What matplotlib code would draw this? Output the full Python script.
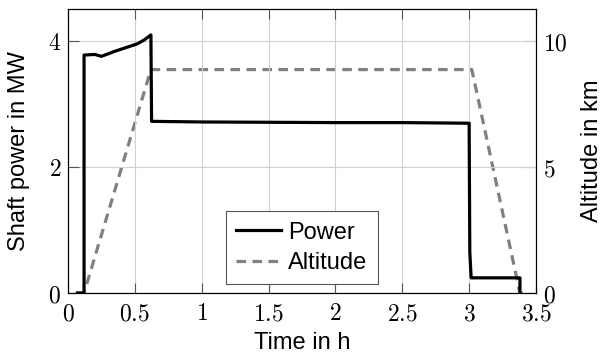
import matplotlib
matplotlib.use('Agg')
import matplotlib.pyplot as plt

# Mission profile
power_t = [0.07, 0.12, 0.12, 0.20, 0.25, 0.35, 0.45, 0.52, 0.57, 0.62, 0.625, 1.0, 2.0, 2.5, 3.0, 3.005, 3.015, 3.38, 3.38]
power_mw = [0.0, 0.0, 3.77, 3.78, 3.75, 3.83, 3.90, 3.95, 4.01, 4.09, 2.72, 2.71, 2.70, 2.70, 2.69, 0.65, 0.24, 0.24, 0.0]

alt_t = [0.07, 0.12, 0.62, 3.02, 3.38, 3.42]
alt_km = [0.0, 0.0, 8.85, 8.85, 0.0, 0.0]

x_ticks = [0, 0.5, 1, 1.5, 2, 2.5, 3, 3.5]
y_ticks = [0, 2, 4]
y2_ticks = [0, 5, 10]

plt.rcParams['mathtext.fontset'] = 'cm'
label_font = 'Liberation Sans'
fs = 17

fig = plt.figure(figsize=(6.04, 3.53), dpi=100)
ax = fig.add_axes([0.1126, 0.17, 0.7748, 0.8045])
ax2 = ax.twinx()

ax.set_xlim(0, 3.5)
ax.set_ylim(0, 4.5)
ax2.set_ylim(0, 11.25)

ax.grid(True, color='#d0d0d0', linewidth=0.8)
ax.set_axisbelow(True)

ln1, = ax.plot(power_t, power_mw, color='black', linewidth=2.3, label='Power')
ln2, = ax2.plot(alt_t, alt_km, color='#808080', linewidth=2.3, dashes=(3, 2), label='Altitude')

ax.set_xticks(x_ticks)
ax.set_xticklabels(['$%g$' % v for v in x_ticks])
ax.set_yticks(y_ticks)
ax.set_yticklabels(['$%g$' % v for v in y_ticks])
ax2.set_yticks(y2_ticks)
ax2.set_yticklabels(['$%g$' % v for v in y2_ticks])

ax.tick_params(axis='x', direction='in', length=7, color='#555555', labelsize=fs, top=True, pad=6)
ax.tick_params(axis='y', direction='in', length=8, color='#555555', labelsize=fs, pad=5)
ax2.tick_params(axis='y', direction='in', length=8, color='#555555', labelsize=fs, pad=5)

ax.set_xlabel('Time in h', fontsize=fs, family=label_font, labelpad=5)
ax.set_ylabel('Shaft power in MW', fontsize=fs, family=label_font, labelpad=13)
ax2.set_ylabel('Altitude in km', fontsize=fs, family=label_font, labelpad=10)

leg = ax.legend(handles=[ln1, ln2], loc='lower center', bbox_to_anchor=(0.5, 0.03),
                borderaxespad=0, fancybox=False, edgecolor='#555555', framealpha=1,
                prop={'family': label_font, 'size': fs}, handlelength=1.9,
                borderpad=0.45, labelspacing=0.35, handletextpad=0.3)
leg.get_frame().set_linewidth(0.8)
ax.set_zorder(ax2.get_zorder() + 1)
ax.patch.set_visible(False)

fig.savefig('out.png', dpi=100)
